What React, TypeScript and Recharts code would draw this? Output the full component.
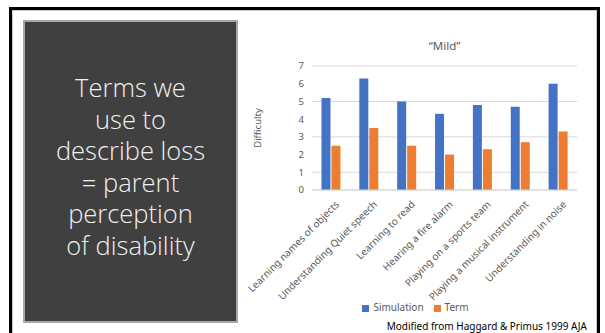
import { BarChart, Bar, XAxis, YAxis, CartesianGrid, Legend } from 'recharts';

const activities = [
  'Learning names of objects',
  'Understanding Quiet speech',
  'Learning to read',
  'Hearing a fire alarm',
  'Playing on a sports team',
  'Playing a musical instrument',
  'Understanding in noise',
];
const simulationScores = [5.2, 6.3, 5.0, 4.3, 4.8, 4.7, 6.0];
const termScores = [2.5, 3.5, 2.5, 2.0, 2.3, 2.7, 3.3];
const yTicks = [0, 1, 2, 3, 4, 5, 6, 7];
const headingLines = ['Terms we', 'use to', 'describe loss', '= parent', 'perception', 'of disability'];

const rows = activities.map((name, i) => ({
  name,
  simulation: simulationScores[i],
  term: termScores[i],
}));

const chartFont = '"Noto Sans", "Open Sans", sans-serif';
const axisText = { fontSize: 9.5, fill: '#595959', fontFamily: chartFont };

export default function App() {
  return (
    <div
      style={{
        position: 'fixed',
        left: 0,
        top: 0,
        width: 605,
        height: 333,
        background: '#fff',
        overflow: 'hidden',
      }}
    >
      {/* slide frame */}
      <div
        style={{
          position: 'absolute',
          left: 9,
          top: 7,
          width: 585,
          height: 340,
          borderTop: '3px solid #000',
          borderLeft: '3px solid #000',
          borderRight: '3px solid #000',
          boxShadow: 'inset 1px 1px 0 #c8c8c8, inset -1px 0 0 #c8c8c8',
        }}
      />
      {/* title panel */}
      <div
        style={{
          position: 'absolute',
          left: 23,
          top: 20,
          width: 211,
          height: 299,
          background: '#404040',
          border: '2px solid #a8a8a8',
          color: '#f0f0f0',
          fontFamily: '"Open Sans", sans-serif',
          fontWeight: 300,
          fontSize: 25.5,
          lineHeight: '31.6px',
          textAlign: 'center',
          boxSizing: 'content-box',
        }}
      >
        <div style={{ paddingTop: 50 }}>
          {headingLines.map((line) => (
            <div key={line}>{line}</div>
          ))}
        </div>
      </div>
      <div
        style={{
          position: 'absolute',
          left: 312,
          width: 265,
          top: 38,
          textAlign: 'center',
          fontFamily: chartFont,
          fontSize: 11.5,
          color: '#595959',
        }}
      >
        “Mild”
      </div>
      <div style={{ position: 'absolute', left: 240, top: 30 }}>
        <BarChart
          width={360}
          height={303}
          data={rows}
          margin={{ top: 36, right: 23, left: 12, bottom: 19 }}
          barCategoryGap="25%"
          barGap={1}
        >
          <CartesianGrid vertical={false} stroke="#d9d9d9" />
          <XAxis
            dataKey="name"
            interval={0}
            angle={-45}
            textAnchor="end"
            height={110}
            tick={{ ...axisText, fontSize: 10, dx: 4, dy: 2 }}
            tickLine={false}
            axisLine={{ stroke: '#d9d9d9' }}
          />
          <YAxis
            width={60}
            domain={[0, 7]}
            ticks={yTicks}
            tick={axisText}
            tickLine={false}
            axisLine={false}
            label={{
              value: 'Difficulty',
              angle: -90,
              position: 'insideLeft',
              offset: 6,
              style: { textAnchor: 'middle', fontSize: 9.5, fill: '#595959', fontFamily: chartFont },
            }}
          />
          <Legend
            iconType="square"
            iconSize={7}
            wrapperStyle={{ fontSize: 10, fontFamily: chartFont, paddingLeft: 6 }}
            formatter={(value) => <span style={{ color: '#595959' }}>{value}</span>}
          />
          <Bar dataKey="simulation" name="Simulation" fill="#4472C4" isAnimationActive={false} />
          <Bar dataKey="term" name="Term" fill="#ED7D31" isAnimationActive={false} />
        </BarChart>
      </div>
      <div
        style={{
          position: 'absolute',
          right: 18,
          top: 320,
          fontFamily: chartFont,
          fontSize: 10,
          lineHeight: '12px',
          color: '#000',
          whiteSpace: 'nowrap',
        }}
      >
        Modified from Haggard &amp; Primus 1999 AJA
      </div>
    </div>
  );
}
